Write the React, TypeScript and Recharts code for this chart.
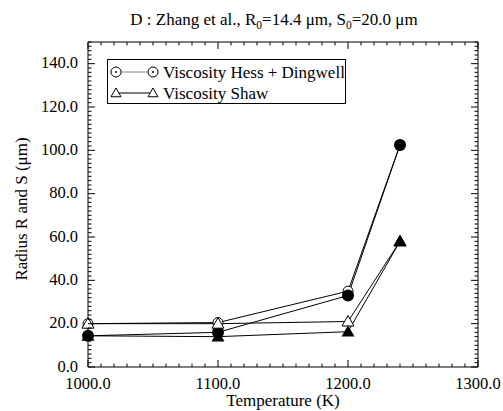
import React from 'react';
import { LineChart, Line, XAxis, YAxis, Legend } from 'recharts';

// temperatures (K) and radii (µm)
const temperatures = [1000, 1100, 1200, 1240];
const sHessDingwell = [20.0, 20.5, 35.0, 102.5];
const rHessDingwell = [14.4, 16.0, 33.0, 102.5];
const sShaw = [20.0, 20.0, 21.0, 58.0];
const rShaw = [14.4, 14.0, 16.3, 58.0];

const xMajorTicks = [1000, 1100, 1200, 1300];
const yMajorTicks = [0, 20, 40, 60, 80, 100, 120, 140];

const range = (from: number, to: number, step: number) => {
  const out: number[] = [];
  for (let v = from; v <= to; v += step) out.push(v);
  return out;
};
const xAllTicks = range(1000, 1300, 10);
const yAllTicks = range(0, 150, 2);

const data = temperatures.map((t, i) => ({
  t,
  sHD: sHessDingwell[i],
  rHD: rHessDingwell[i],
  sSh: sShaw[i],
  rSh: rShaw[i],
}));

const FONT = 'Liberation Serif';
const tickTxt = { fontFamily: FONT, fontSize: 16.5, fill: '#000' };
const txt = { fontFamily: FONT, fontSize: 17, fill: '#000' };

type Side = 'bottom' | 'top' | 'left' | 'right';

const makeTick = (side: Side, majors: number[]) => (props: any) => {
  const { x, y, payload } = props;
  const v = payload.value;
  const major = majors.includes(v);
  const len = major ? 7 : 3.5;
  let line;
  if (side === 'bottom') line = <line x1={x} y1={y} x2={x} y2={y - len} stroke="#000" />;
  else if (side === 'top') line = <line x1={x} y1={y} x2={x} y2={y + len} stroke="#000" />;
  else if (side === 'left') line = <line x1={x} y1={y} x2={x + len} y2={y} stroke="#000" />;
  else line = <line x1={x} y1={y} x2={x - len} y2={y} stroke="#000" />;
  return (
    <g>
      {line}
      {major && side === 'bottom' && (
        <text x={x} y={y + 22} textAnchor="middle" style={tickTxt}>
          {v.toFixed(1)}
        </text>
      )}
      {major && side === 'left' && (
        <text x={x - 10} y={y - 1} dy="0.35em" textAnchor="end" style={tickTxt}>
          {v.toFixed(1)}
        </text>
      )}
    </g>
  );
};

const OpenCircle = ({ cx, cy }: any) => (
  <g>
    <circle cx={cx} cy={cy} r={5} fill="#fff" stroke="#000" />
    <circle cx={cx} cy={cy} r={1} fill="#000" />
  </g>
);
const FilledCircle = ({ cx, cy }: any) => <circle cx={cx} cy={cy} r={6} fill="#000" />;
const triPath = (cx: number, cy: number, s: number) =>
  `M${cx},${cy - s} L${cx + s},${cy + s * 0.75} L${cx - s},${cy + s * 0.75} Z`;
const OpenTriangle = ({ cx, cy }: any) => <path d={triPath(cx, cy, 6)} fill="#fff" stroke="#000" />;
const FilledTriangle = ({ cx, cy }: any) => <path d={triPath(cx, cy, 6.5)} fill="#000" />;

const LegendBox = () => (
  <svg width={240} height={46} style={{ display: 'block' }}>
    <rect x={0.5} y={0.5} width={238} height={44} fill="#fff" stroke="#000" />
    <line x1={9} y1={13} x2={46} y2={13} stroke="#888" />
    <OpenCircle cx={9} cy={13} />
    <OpenCircle cx={46} cy={13} />
    <text x={56} y={19} style={txt}>Viscosity Hess + Dingwell</text>
    <line x1={9} y1={34} x2={46} y2={34} stroke="#000" />
    <path d={triPath(9, 34, 5)} fill="#fff" stroke="#000" />
    <path d={triPath(46, 34, 5)} fill="#fff" stroke="#000" />
    <text x={56} y={39.5} style={txt}>Viscosity Shaw</text>
  </svg>
);

export default function App() {
  return (
    <div style={{ position: 'absolute', left: 0, top: 0, width: 503, height: 411, background: '#fff', fontFamily: FONT }}>
      <LineChart width={503} height={411} data={data} margin={{ top: 0, right: 0, bottom: 0, left: 0 }}>
        <XAxis
          dataKey="t"
          type="number"
          domain={[1000, 1300]}
          ticks={xAllTicks}
          interval={0}
          height={44}
          tickSize={0}
          tickMargin={0}
          tick={makeTick('bottom', xMajorTicks)}
          axisLine={{ stroke: '#000' }}
        />
        <XAxis
          xAxisId="top"
          orientation="top"
          dataKey="t"
          type="number"
          domain={[1000, 1300]}
          allowDataOverflow
          ticks={xAllTicks}
          interval={0}
          height={42}
          tickSize={0}
          tickMargin={0}
          tick={makeTick('top', xMajorTicks)}
          axisLine={{ stroke: '#000' }}
        />
        <YAxis
          type="number"
          domain={[0, 150]}
          ticks={yAllTicks}
          interval={0}
          width={88}
          tickSize={0}
          tickMargin={0}
          tick={makeTick('left', yMajorTicks)}
          axisLine={{ stroke: '#000' }}
        />
        <YAxis
          yAxisId="right"
          orientation="right"
          type="number"
          domain={[0, 150]}
          allowDataOverflow
          ticks={yAllTicks}
          interval={0}
          width={25}
          tickSize={0}
          tickMargin={0}
          tick={makeTick('right', yMajorTicks)}
          axisLine={{ stroke: '#000' }}
        />
        <Legend
          layout="vertical"
          align="center"
          verticalAlign="middle"
          content={() => <LegendBox />}
          wrapperStyle={{ left: 107, top: 59, width: 240, height: 46 }}
        />
        <Line dataKey="sHD" stroke="#000" strokeWidth={1} dot={OpenCircle} isAnimationActive={false} />
        <Line dataKey="rHD" stroke="#000" strokeWidth={1} dot={FilledCircle} isAnimationActive={false} />
        <Line dataKey="sSh" stroke="#000" strokeWidth={1} dot={OpenTriangle} isAnimationActive={false} />
        <Line dataKey="rSh" stroke="#000" strokeWidth={1} dot={FilledTriangle} isAnimationActive={false} />
      </LineChart>
      <svg width={503} height={411} style={{ position: 'absolute', left: 0, top: 0, pointerEvents: 'none' }}>
        <text x={274} y={25} textAnchor="middle" style={txt}>
          D : Zhang et al., R<tspan dy={4} fontSize={11.5}>0</tspan>
          <tspan dy={-4}>=14.4 μm, S</tspan>
          <tspan dy={4} fontSize={11.5}>0</tspan>
          <tspan dy={-4}>=20.0 μm</tspan>
        </text>
        <text x={283} y={406} textAnchor="middle" style={txt}>
          Temperature (K)
        </text>
        <text x={27} y={209} textAnchor="middle" transform="rotate(-90, 27, 209)" style={txt}>
          Radius R and S (μm)
        </text>
      </svg>
    </div>
  );
}
